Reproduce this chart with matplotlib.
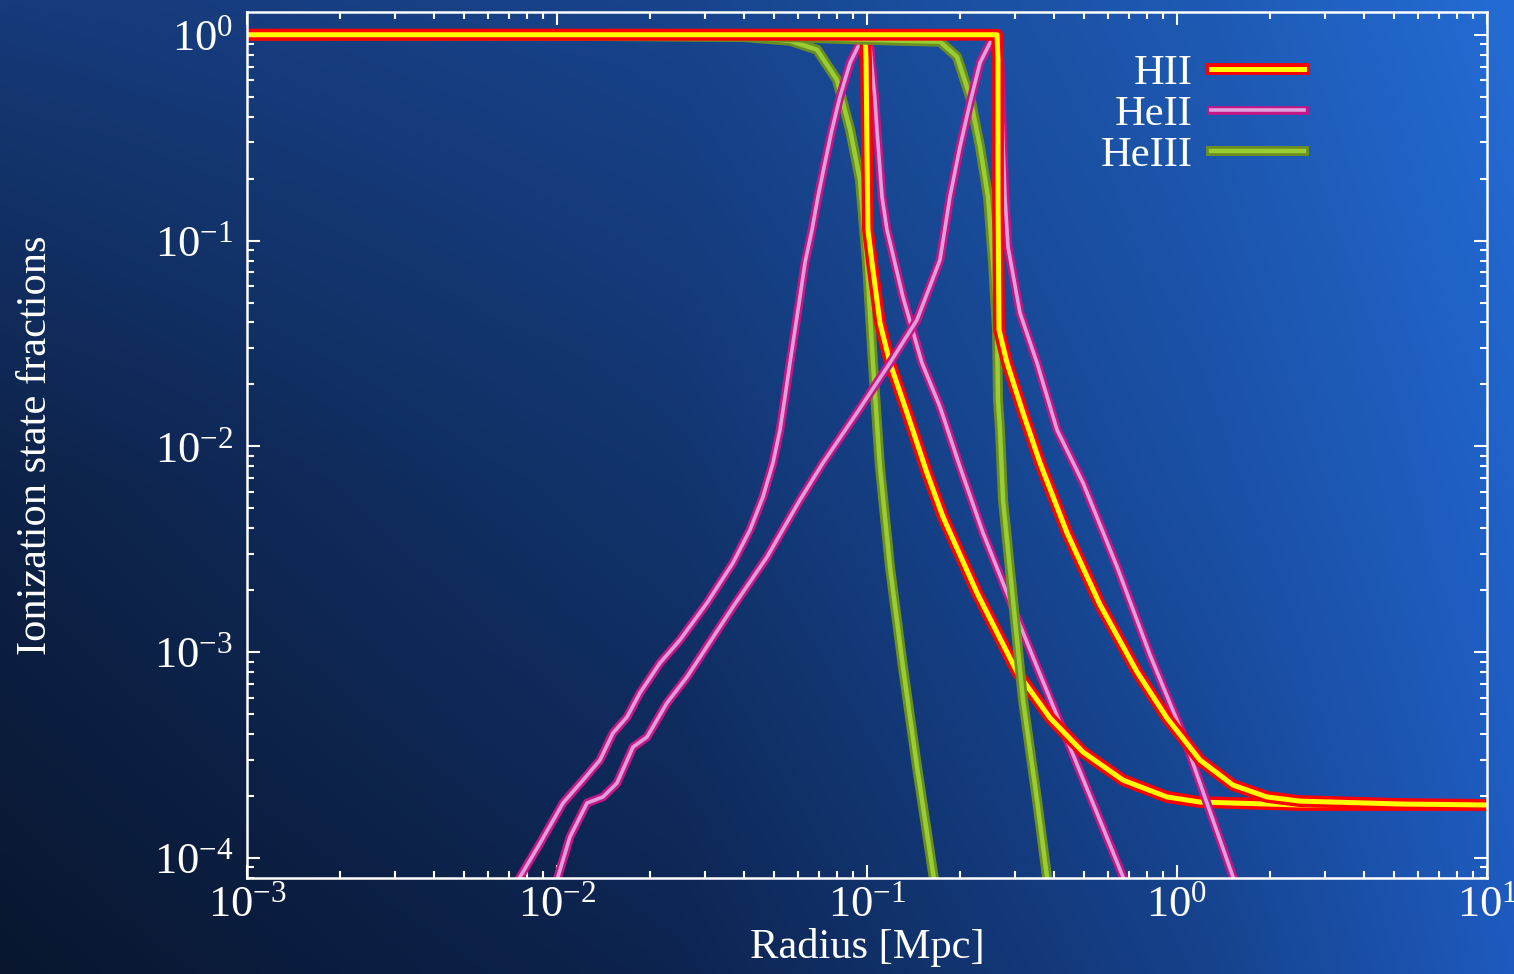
import numpy as np
import matplotlib
matplotlib.use("Agg")
import matplotlib.pyplot as plt
import matplotlib.patheffects as pe

plt.rcParams['font.family'] = ['Liberation Serif', 'DejaVu Serif']
plt.rcParams['mathtext.fontset'] = 'stix'

# ionization fronts at two times (a = early, b = late); radius in Mpc
r_HII_a = [0.001, 0.01, 0.05, 0.0986, 0.0993, 0.1, 0.1007, 0.1038, 0.1101, 0.1186, 0.1346,
           0.1561, 0.1759, 0.2264, 0.3047, 0.3894, 0.4975, 0.6697, 0.928, 1.186, 2.49, 10.0]
f_HII_a = [1.0, 1.0, 1.0, 1.0, 0.756, 0.276, 0.1128, 0.078, 0.0398, 0.02545, 0.01455,
           0.00743, 0.00454, 0.00194, 8.02e-4, 4.79e-4, 3.27e-4, 2.39e-4, 1.98e-4, 1.87e-4, 1.81e-4, 1.81e-4]

r_HII_b = [0.001, 0.01, 0.1, 0.2627, 0.2646, 0.2646, 0.2666, 0.2829, 0.3186, 0.3614, 0.4417,
           0.5645, 0.743, 0.928, 1.186, 1.516, 1.951, 2.49, 5.24, 10.0]
f_HII_b = [1.0, 1.0, 1.0, 1.0, 0.756, 0.158, 0.0368, 0.02545, 0.01455, 0.00831, 0.0038,
           0.0017, 8.02e-4, 4.79e-4, 2.99e-4, 2.26e-4, 1.98e-4, 1.89e-4, 1.83e-4, 1.81e-4]

r_HeII_a = [0.00695, 0.0076, 0.00882, 0.01046, 0.01213, 0.01376, 0.01516, 0.01682, 0.01852, 0.0215,
            0.02494, 0.03048, 0.03695, 0.04194, 0.04617, 0.04975, 0.05241, 0.05439, 0.05645, 0.05858,
            0.06081, 0.0631, 0.06647, 0.06949, 0.07319, 0.07709, 0.0818, 0.0882, 0.0935, 0.0971,
            0.1023, 0.1061, 0.1077, 0.1118, 0.116, 0.1306, 0.1504,
            0.172, 0.1995, 0.2367, 0.2829, 0.3535, 0.4417, 0.5518, 0.6697, 0.7056]
f_HeII_a = [6.46e-5, 8.09e-5, 1.18e-4, 1.85e-4, 2.39e-4, 2.99e-4, 4.05e-4, 4.84e-4, 6.34e-4, 8.87e-4,
            1.147e-3, 1.736e-3, 2.715e-3, 3.93e-3, 5.68e-3, 8.31e-3, 0.01203, 0.0174, 0.02545, 0.0368,
            0.0533, 0.078, 0.1128, 0.1632, 0.2387, 0.3453, 0.4996, 0.731, 0.874, 0.904,
            0.865, 0.483, 0.3453, 0.1632, 0.1128, 0.0533, 0.02545,
            0.01556, 7.95e-3, 3.8e-3, 1.94e-3, 8.48e-4, 3.75e-4, 1.655e-4, 8.09e-5, 6.61e-5]

r_HeII_b = [0.00971, 0.01007, 0.01101, 0.0125, 0.01407, 0.01561, 0.01759, 0.01951, 0.02264, 0.02627,
            0.03695, 0.04758, 0.06081, 0.0721, 0.0928, 0.1186, 0.145, 0.172, 0.1852, 0.1995,
            0.215, 0.2315, 0.2494, 0.2588, 0.2685, 0.2787, 0.285, 0.3115, 0.3535, 0.4102,
            0.4975, 0.6405, 0.8183, 1.046, 1.186, 1.516, 1.597]
f_HeII_b = [6.61e-5, 8.09e-5, 1.265e-4, 1.85e-4, 1.98e-4, 2.31e-4, 3.46e-4, 3.87e-4, 5.67e-4, 7.58e-4,
            1.66e-3, 2.9e-3, 5.5e-3, 8.31e-3, 0.01455, 0.02545, 0.0412, 0.0806, 0.1632, 0.2856,
            0.467, 0.731, 0.914, 0.946, 0.756, 0.1632, 0.0932, 0.04455, 0.02545, 0.01203,
            6.65e-3, 2.6e-3, 9.7e-4, 3.96e-4, 2.31e-4, 8.09e-5, 6.46e-5]

r_HeIII_a = [0.001, 0.01, 0.04, 0.05645, 0.069, 0.08, 0.0882, 0.0949, 0.1, 0.1045,
             0.1101, 0.1186, 0.1306, 0.145, 0.1633, 0.1682]
f_HeIII_a = [0.995, 0.99, 0.975, 0.935, 0.846, 0.604, 0.3453, 0.1973, 0.078, 0.02545,
             7.95e-3, 2.6e-3, 8.48e-4, 2.77e-4, 8.45e-5, 6.46e-5]

r_HeIII_b = [0.001, 0.01, 0.05, 0.09, 0.1278, 0.172, 0.1951, 0.215, 0.2315, 0.2457, 0.255,
             0.2627, 0.2646, 0.2685, 0.2746, 0.2958, 0.3186, 0.3535, 0.3807, 0.3894]
f_HeIII_b = [0.995, 0.99, 0.98, 0.95, 0.935, 0.925, 0.782, 0.4996, 0.2856, 0.1632, 0.078,
             0.0368, 0.01683, 0.01203, 5.5e-3, 1.795e-3, 5.86e-4, 1.913e-4, 8.09e-5, 6.46e-5]

fig = plt.figure(figsize=(15.14, 9.74), dpi=100)

# background gradient: dark navy bottom-left -> bright blue right
u_knots = [0.0, 0.45, 0.8, 1.0]
v_knots = [0.0, 0.5, 1.0]  # top, middle, bottom
knot_cols = np.array([
    [(22, 58, 122), (24, 68, 140), (30, 90, 180), (36, 108, 212)],
    [(13, 34, 72), (18, 52, 110), (26, 80, 165), (32, 98, 200)],
    [(9, 22, 46), (13, 36, 80), (22, 66, 140), (30, 90, 190)],
], dtype=float) / 255.0
nu, nv = 300, 200
uu = np.linspace(0, 1, nu)
vv = np.linspace(0, 1, nv)
rows = np.array([[np.interp(uu, u_knots, knot_cols[i, :, c]) for c in range(3)] for i in range(3)])
grad = np.empty((nv, nu, 3))
for c in range(3):
    for j in range(nu):
        grad[:, j, c] = np.interp(vv, v_knots, rows[:, c, j])
bg = fig.add_axes([0, 0, 1, 1])
bg.imshow(grad, aspect='auto', extent=[0, 1, 0, 1], interpolation='bilinear')
bg.axis('off')

ax = fig.add_axes([0.1631, 0.0986, 0.8191, 0.8891])
ax.set_facecolor('none')
ax.set_xscale('log')
ax.set_yscale('log')


def band(r, f, outer, inner, wo, wi, label=None, z=2):
    ax.plot(r, f, color=inner, lw=wi, label=label, solid_joinstyle='round', zorder=z,
            path_effects=[pe.Stroke(linewidth=wo, foreground=outer), pe.Normal()])


# per snapshot: HeIII under HeII under HII
band(r_HeIII_a, f_HeIII_a, 'olivedrab', 'yellowgreen', 7.2, 3.2, 'HeIII', 2.0)
band(r_HeII_a, f_HeII_a, 'mediumvioletred', 'plum', 6.2, 2.6, 'HeII', 2.1)
band(r_HII_a, f_HII_a, 'red', 'yellow', 8.5, 3.6, 'HII', 2.2)
band(r_HeIII_b, f_HeIII_b, 'olivedrab', 'yellowgreen', 7.2, 3.2, None, 2.3)
band(r_HeII_b, f_HeII_b, 'mediumvioletred', 'plum', 6.2, 2.6, None, 2.4)
band(r_HII_b, f_HII_b, 'red', 'yellow', 8.5, 3.6, None, 2.5)

ax.set_xlim(1e-3, 10)
ax.set_ylim(8e-5, 1.29)

for s in ax.spines.values():
    s.set_color('white')
    s.set_linewidth(1.8)
ax.tick_params(which='both', direction='in', top=True, right=True, colors='white',
               labelsize=32, width=1.5)
ax.tick_params(which='major', length=9.5)
ax.tick_params(which='minor', length=5)
ax.tick_params(axis='x', pad=5)
ax.tick_params(axis='y', pad=10)

ax.set_xlabel('Radius [Mpc]', color='white', fontsize=30.6, labelpad=2)
ax.set_ylabel('Ionization state fractions', color='white', fontsize=30.6)
ax.yaxis.set_label_coords(-0.155, 0.5)

handles, labels = ax.get_legend_handles_labels()
order = [2, 1, 0]
ax.legend([handles[i] for i in order], [labels[i] for i in order],
          loc='upper right', bbox_to_anchor=(0.8526, 0.951), frameon=False, markerfirst=False,
          handlelength=2.2, handletextpad=0.42, labelspacing=0.05, borderpad=0,
          borderaxespad=0, fontsize=30.6, labelcolor='white')

fig.savefig('out.png', dpi=100)
